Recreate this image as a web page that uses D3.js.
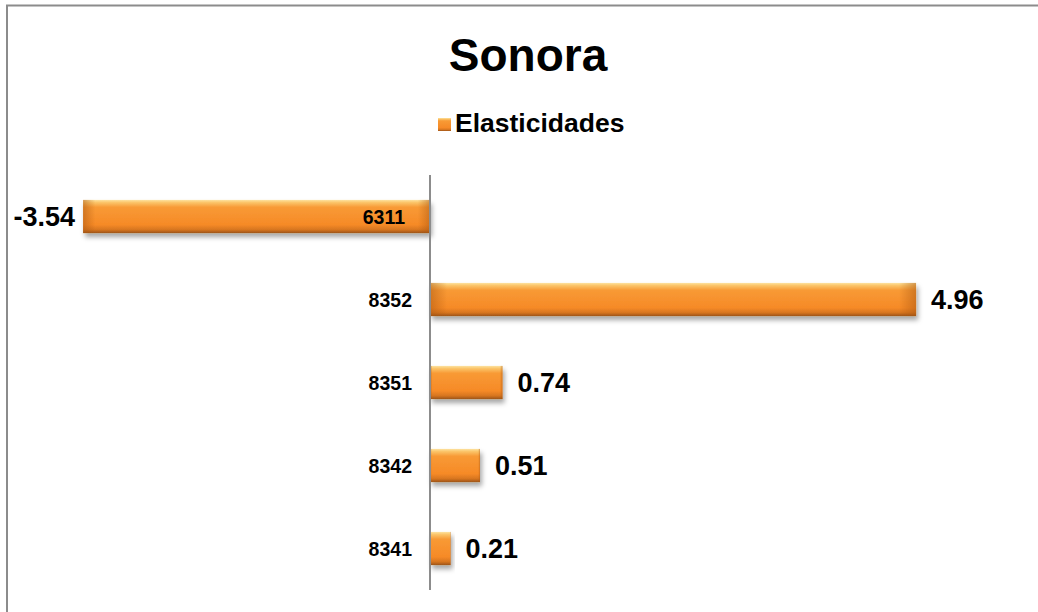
<!DOCTYPE html>
<html>
<head>
<meta charset="utf-8">
<script src="https://cdn.jsdelivr.net/npm/d3@7"></script>
<style>
  body { margin: 0; background: #fff; }
  text { font-family: "Liberation Sans", Arial, sans-serif; font-weight: bold; fill: #000; }
</style>
</head>
<body>
<div id="chart"></div>
<script>
const categories = ["6311", "8352", "8351", "8342", "8341"]
const values = [-3.54, 4.96, 0.74, 0.51, 0.21]
const seriesName = "Elasticidades"
const title = "Sonora"

const W = 1038, H = 612
const AXIS_X = 430
const TOP = 175, BOTTOM = 590

const svg = d3.select("#chart").append("svg")
	.attr("width", W)
	.attr("height", H)

const defs = svg.append("defs")

// vertical shading of the bars
const grad = defs.append("linearGradient")
	.attr("id", "barGrad")
	.attr("x1", 0).attr("y1", 0).attr("x2", 0).attr("y2", 1)
grad.selectAll("stop")
	.data([
		["0%", "#fde2a0"], ["8%", "#fbc468"], ["22%", "#f89a35"],
		["75%", "#f68a27"], ["90%", "#d6751f"], ["100%", "#9c5418"]
	])
	.enter().append("stop")
		.attr("offset", d => d[0])
		.attr("stop-color", d => d[1])

// darker ends (bevel)
const endGrad = defs.append("linearGradient")
	.attr("id", "endGrad")
	.attr("x1", 0).attr("y1", 0).attr("x2", 1).attr("y2", 0)
endGrad.selectAll("stop")
	.data([
		["0%", "#a9550f", 0.5], ["3.5%", "#a9550f", 0], ["96.5%", "#a9550f", 0], ["100%", "#a9550f", 0.5]
	])
	.enter().append("stop")
		.attr("offset", d => d[0])
		.attr("stop-color", d => d[1])
		.attr("stop-opacity", d => d[2])

const shadow = defs.append("filter")
	.attr("id", "shadow")
	.attr("x", "-10%").attr("y", "-20%").attr("width", "130%").attr("height", "170%")
shadow.append("feDropShadow")
	.attr("dx", 2).attr("dy", 4).attr("stdDeviation", 2.5)
	.attr("flood-color", "#000").attr("flood-opacity", 0.35)

// outer border (chart area runs off the right and bottom)
svg.append("path")
	.attr("d", `M7,${H} V5.5 H${W}`)
	.attr("fill", "none")
	.attr("stroke", "#8c8c8c")
	.attr("stroke-width", 2)

const x = d3.scaleLinear()
	.domain([0, 1])
	.range([AXIS_X, AXIS_X + 98])

const y = d3.scaleBand()
	.domain(categories)
	.range([TOP, BOTTOM])
	.paddingInner(0.6)
	.paddingOuter(0.3)

const data = categories.map((c, i) => ({ cat: c, val: values[i] }))

svg.append("text")
	.attr("x", 528)
	.attr("y", 71)
	.attr("text-anchor", "middle")
	.style("font-size", "46px")
	.text(title)

// legend
const legend = svg.append("g").attr("transform", "translate(438,118)")
legend.append("rect")
	.attr("width", 13).attr("height", 13)
	.attr("fill", "url(#barGrad)")
legend.append("rect")
	.attr("width", 13).attr("height", 13)
	.attr("fill", "url(#endGrad)")
legend.append("text")
	.attr("x", 17).attr("y", 14)
	.style("font-size", "26.5px")
	.text(seriesName)

const bars = svg.selectAll("g.bar")
	.data(data)
	.enter().append("g")
		.attr("class", "bar")

bars.append("rect")
	.attr("x", d => Math.min(x(0), x(d.val)))
	.attr("y", d => y(d.cat))
	.attr("width", d => Math.abs(x(d.val) - x(0)))
	.attr("height", y.bandwidth())
	.attr("fill", "url(#barGrad)")
	.attr("filter", "url(#shadow)")

bars.append("rect")
	.attr("x", d => Math.min(x(0), x(d.val)))
	.attr("y", d => y(d.cat))
	.attr("width", d => Math.abs(x(d.val) - x(0)))
	.attr("height", y.bandwidth())
	.attr("fill", "url(#endGrad)")

// vertical axis line
svg.append("line")
	.attr("x1", AXIS_X).attr("x2", AXIS_X)
	.attr("y1", TOP).attr("y2", BOTTOM)
	.attr("stroke", "#8c8c8c")
	.attr("stroke-width", 2)

// category labels
svg.selectAll("text.cat")
	.data(data)
	.enter().append("text")
		.attr("class", "cat")
		.attr("x", d => d.val < 0 ? x(0) - 25 : x(0) - 18)
		.attr("y", d => y(d.cat) + y.bandwidth() / 2)
		.attr("dy", "0.36em")
		.attr("text-anchor", "end")
		.style("font-size", "19.5px")
		.text(d => d.cat)

// value labels
svg.selectAll("text.val")
	.data(data)
	.enter().append("text")
		.attr("class", "val")
		.attr("x", d => d.val < 0 ? x(d.val) - 8 : x(d.val) + 15)
		.attr("y", d => y(d.cat) + y.bandwidth() / 2)
		.attr("dy", "0.36em")
		.attr("text-anchor", d => d.val < 0 ? "end" : "start")
		.style("font-size", "27px")
		.text(d => d.val.toFixed(2))
</script>
</body>
</html>
